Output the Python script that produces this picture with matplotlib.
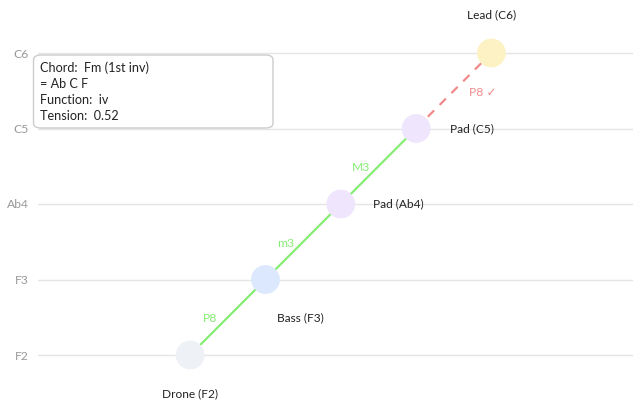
import matplotlib
matplotlib.use("Agg")
import matplotlib.pyplot as plt
from matplotlib.patches import FancyBboxPatch

plt.rcParams['font.family'] = ['Lato', 'DejaVu Sans']

# Voices stacked from lowest to highest
notes = ["F2", "F3", "Ab4", "C5", "C6"]
voices = ["Drone (F2)", "Bass (F3)", "Pad (Ab4)", "Pad (C5)", "Lead (C6)"]
voice_colors = ["#eef1f6", "#dbe8fd", "#efe6fd", "#efe6fd", "#fdf2c4"]
intervals = ["P8", "m3", "M3", "P8 \u2713"]
interval_ok = [True, True, True, False]
info_lines = ["Chord:  Fm (1st inv)", "= Ab C F", "Function:  iv", "Tension:  0.52"]

W, H = 633, 403
fig = plt.figure(figsize=(W / 100, H / 100), dpi=100)
ax = fig.add_axes([38 / W, (H - 392.75) / H, (W - 38) / W, (392.75 - 15.25) / H])

xs = list(range(len(notes)))
ys = list(range(len(notes)))

ax.set_xlim(-2.02, 5.88)
ax.set_ylim(-0.5, 4.5)

# horizontal pitch grid
for y in ys:
    ax.axhline(y, color="#e5e5e5", lw=1, zorder=0)

# voice-leading segments
green = "#86ec74"
red = "#f08a8a"
for i in range(len(xs) - 1):
    x0, x1, y0, y1 = xs[i], xs[i + 1], ys[i], ys[i + 1]
    mx, my = (x0 + x1) / 2, (y0 + y1) / 2
    if interval_ok[i]:
        ax.plot([x0, x1], [y0, y1], color=green, lw=1.6, zorder=1)
        ax.text(mx - 0.23, my - 0.02, intervals[i], color=green, fontsize=8.7,
                ha="center", va="center")
    else:
        ax.plot([x0, x1], [y0, y1], color=red, lw=1.6, ls=(0, (4, 3.5)), zorder=1)
        ax.text(mx + 0.39, my - 0.02, intervals[i], color=red, fontsize=8.7,
                ha="center", va="center")

ax.scatter(xs, ys, s=430, c=voice_colors, edgecolors="none", zorder=2)

# voice labels
lab = dict(fontsize=8.6, color="#222222", va="center")
ax.text(xs[0], ys[0] - 0.51, voices[0], ha="center", **lab)
ax.text(xs[1] + 0.47, ys[1] - 0.51, voices[1], ha="center", **lab)
ax.text(xs[2] + 0.43, ys[2], voices[2], ha="left", **lab)
ax.text(xs[3] + 0.45, ys[3], voices[3], ha="left", **lab)
ax.text(xs[4], ys[4] + 0.5, voices[4], ha="center", **lab)

ax.set_yticks(ys)
ax.set_yticklabels(notes)
ax.tick_params(axis="y", length=0, pad=6.5, labelsize=8.7, labelcolor="#999999")
ax.set_xticks([])
for s in ax.spines.values():
    s.set_visible(False)

# chord info box
box = FancyBboxPatch((33.5 / W, 1 - 128 / H), (273 - 33.5) / W, (128 - 55) / H,
                     boxstyle="round,pad=0,rounding_size=0.012",
                     transform=fig.transFigure, facecolor="white",
                     edgecolor="#cccccc", lw=1, zorder=5)
fig.patches.append(box)
for k, line in enumerate(info_lines):
    fig.text(40 / W, 1 - (68 + 16 * k) / H, line, fontsize=9.1, color="#222222",
             va="center", ha="left", zorder=6)

fig.savefig("out.png", dpi=100)
